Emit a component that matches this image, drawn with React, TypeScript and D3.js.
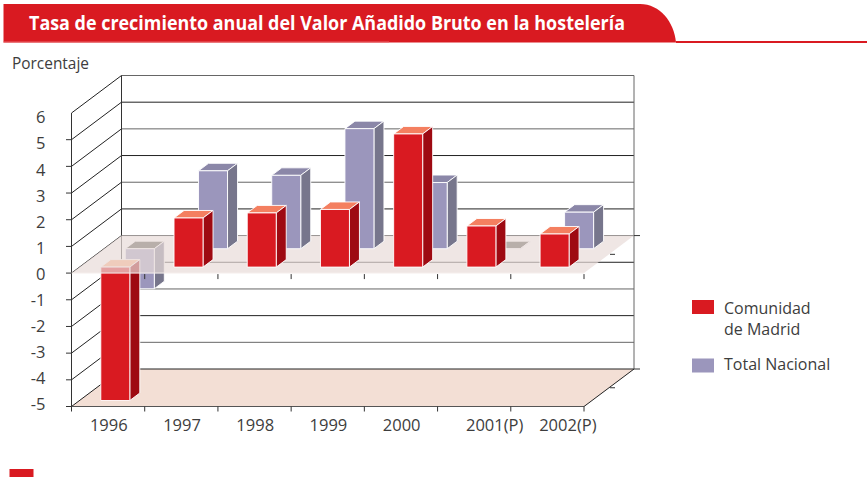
import React from "react";
import * as d3 from "d3";

const categories = ["1996", "1997", "1998", "1999", "2000", "2001(P)", "2002(P)"];
const madrid = [-5.0, 1.84, 2.03, 2.16, 4.99, 1.54, 1.24];
const nacional = [-1.5, 2.92, 2.75, 4.5, 2.48, -0.03, 1.37];
const yTicks = [6, 5, 4, 3, 2, 1, 0, -1, -2, -3, -4, -5];
const title = "Tasa de crecimiento anual del Valor Añadido Bruto en la hostelería";
const yTitle = "Porcentaje";
const legendMadrid = ["Comunidad", "de Madrid"];
const legendNacional = "Total Nacional";

const FONT = "'Open Sans', sans-serif";
const TEXT = "#3d3d3d";
const x = d3.scaleBand<string>().domain(categories).range([71.5, 584]);
const y = d3.scaleLinear().domain([-5, 6]).range([406.5, 113]);
const yLabel = d3.scaleLinear().domain([-5, 6]).range([404, 117.5]);
const DX = 50;
const DY = -37.5;
const BAR_W = 29;

const pt = (px: number, py: number, t: number): [number, number] => [px + DX * t, py + DY * t];
const poly = (pts: [number, number][]) => d3.line()(pts)! + "Z";

type Colors = { front: string; top: string; side: string; topNeg: string };
const RED: Colors = { front: "#d91a21", top: "#f47f60", side: "#9e0a12", topNeg: "#ffa878" };
const BLUE: Colors = { front: "#9b96bc", top: "#8b87a8", side: "#77768c", topNeg: "#49463f" };

function Bar({ cat, value, t0, t1, c }: { cat: string; value: number; t0: number; t1: number; c: Colors }) {
  const xl = x(cat)! + (x.bandwidth() - BAR_W) / 2 - 0.8;
  const xr = xl + BAR_W;
  const hi = y(Math.max(value, 0));
  const lo = y(Math.min(value, 0));
  const front = poly([pt(xl, hi, t0), pt(xr, hi, t0), pt(xr, lo, t0), pt(xl, lo, t0)]);
  const top = poly([pt(xl, hi, t0), pt(xr, hi, t0), pt(xr, hi, t1), pt(xl, hi, t1)]);
  const side = poly([pt(xr, hi, t0), pt(xr, hi, t1), pt(xr, lo, t1), pt(xr, lo, t0)]);
  const s = { stroke: "#fff", strokeWidth: 1, strokeLinejoin: "round" as const, strokeOpacity: 0.9 };
  return (
    <g>
      <path d={top} fill={value < 0 ? c.topNeg : c.top} {...s} />
      <path d={side} fill={c.side} {...s} />
      <path d={front} fill={c.front} {...s} />
    </g>
  );
}

export default function App() {
  const left = 71.5;
  const right = 584;
  const RT: [number, number] = [0.16, 0.36];
  const BT: [number, number] = [0.65, 0.85];
  const zero = y(0);
  const floor = y(-5);
  const ticksX = [left, ...categories.map((c) => x(c)! + x.bandwidth())];
  const bars = categories.map((c, i) => ({ c, r: madrid[i], b: nacional[i] }));

  return (
    <svg width={867} height={477} style={{ position: "fixed", left: 0, top: 0, background: "#fff" }} fontFamily={FONT}>
      {/* header */}
      <path d="M3.5,4 H640 C660,4 674,22 676,42.5 H3.5 Z" fill="#d91a21" />
      <line x1={3.5} x2={389} y1={42} y2={42} stroke="#e8646a" strokeWidth={1} />
      <line x1={676} x2={867} y1={42} y2={42} stroke="#d91a21" strokeWidth={2} />
      <text x={29} y={30} fill="#fff" fontSize={19} fontWeight={700} textLength={596} lengthAdjust="spacingAndGlyphs">{title}</text>
      <text x={12} y={69} fill={TEXT} fontSize={16} textLength={77} lengthAdjust="spacingAndGlyphs">{yTitle}</text>

      {/* floor */}
      <path d={poly([pt(left, floor, 0), pt(right, floor, 0), pt(right, floor, 1), pt(left, floor, 1)])} fill="#f3dfd5" />

      {/* walls and gridlines */}
      {yTicks.map((v) => {
        const [bx, by] = pt(left, y(v), 1);
        const [ex, ey] = pt(right, y(v), 1);
        return (
          <g key={v}>
            <line x1={bx} x2={ex} y1={by} y2={ey} stroke={v % 2 === 0 ? "#666" : "#222"} strokeWidth={1} />
            <line x1={left} x2={bx} y1={y(v)} y2={by} stroke="#222" strokeWidth={1} />
          </g>
        );
      })}
      <line x1={left} x2={left} y1={y(6)} y2={floor} stroke="#333" />
      <line x1={left + DX} x2={left + DX} y1={y(6) + DY} y2={floor + DY} stroke="#333" />
      <line x1={right + DX} x2={right + DX} y1={y(6) + DY} y2={floor + DY} stroke="#666" />
      <line x1={left} x2={right} y1={floor} y2={floor} stroke="#555" />
      <line x1={right} x2={right + DX} y1={floor} y2={floor + DY} stroke="#222" />

      {/* bars below the zero plane */}
      {bars.filter((d) => d.b < 0).map((d) => <Bar key={d.c} cat={d.c} value={d.b} t0={BT[0]} t1={BT[1]} c={BLUE} />)}
      {bars.filter((d) => d.r < 0).map((d) => <Bar key={d.c} cat={d.c} value={d.r} t0={RT[0]} t1={RT[1]} c={RED} />)}

      {/* zero plane */}
      <path
        d={poly([pt(left, zero, 0), pt(right, zero, 0), pt(right, zero, 1), pt(left, zero, 1)])}
        fill="rgb(232,219,216)"
        fillOpacity={0.7}
      />
      <line x1={left} x2={right} y1={zero} y2={zero} stroke="#f6f0ee" strokeWidth={1} />

      {/* bars above the zero plane */}
      {bars.filter((d) => d.b >= 0).map((d) => <Bar key={d.c} cat={d.c} value={d.b} t0={BT[0]} t1={BT[1]} c={BLUE} />)}
      {bars.filter((d) => d.r >= 0).map((d) => <Bar key={d.c} cat={d.c} value={d.r} t0={RT[0]} t1={RT[1]} c={RED} />)}

      {/* ticks */}
      {yTicks.filter((v) => v !== 6).map((v) => (
        <line key={v} x1={66} x2={left} y1={y(v)} y2={y(v)} stroke="#333" />
      ))}
      {ticksX.map((tx) => (
        <g key={tx} stroke="#333">
          <line x1={tx} x2={tx} y1={floor} y2={floor + 5} />
          <line x1={tx} x2={tx} y1={zero + 1} y2={zero + 6} />
        </g>
      ))}
      <g stroke="#333">
        <line x1={right + DX} x2={right + DX + 6} y1={zero + DY} y2={zero + DY} />
        <line x1={right + DX / 2 + 1} x2={right + DX / 2 + 6} y1={zero + DY / 2} y2={zero + DY / 2} />
        <line x1={right + DX} x2={right + DX + 6} y1={floor + DY} y2={floor + DY} />
        <line x1={right + DX / 2 + 1} x2={right + DX / 2 + 6} y1={floor + DY / 2} y2={floor + DY / 2} />
      </g>

      {/* labels */}
      {yTicks.map((v) => (
        <text key={v} x={45.5} y={yLabel(v)} dy="0.36em" textAnchor="end" fill={TEXT} fontSize={16.5}>{v}</text>
      ))}
      {categories.map((c) => (
        <text
          key={c}
          x={x(c)! + x.bandwidth() / 2 + (c.includes("(P)") ? 20.5 : 0.7)}
          y={431}
          textAnchor="middle"
          fill={TEXT}
          fontSize={16.5}
        >
          {c}
        </text>
      ))}

      {/* legend */}
      <rect x={692} y={300} width={22} height={14} fill={RED.front} />
      <rect x={692} y={358.5} width={22} height={14} fill={BLUE.front} />
      {legendMadrid.map((l, i) => (
        <text key={l} x={724} y={314 + i * 21} fill={TEXT} fontSize={16}>{l}</text>
      ))}
      <text x={724} y={370} fill={TEXT} fontSize={16}>{legendNacional}</text>

      <rect x={9.5} y={469} width={24} height={8} fill={RED.front} />
    </svg>
  );
}
